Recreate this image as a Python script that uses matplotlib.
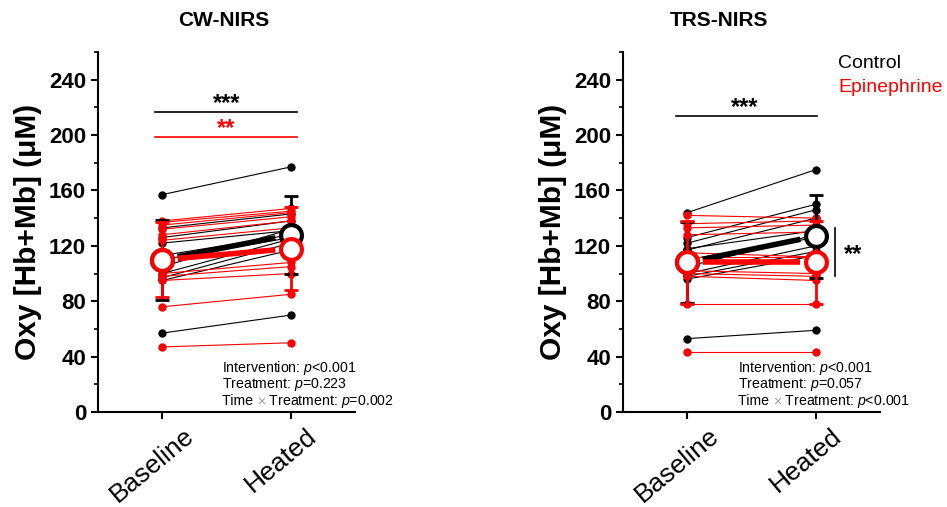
import numpy as np
import matplotlib
matplotlib.use("Agg")
import matplotlib.pyplot as plt
from matplotlib.ticker import MultipleLocator
from matplotlib.transforms import ScaledTranslation

plt.rcParams['font.family'] = ['Liberation Sans', 'DejaVu Sans']
plt.rcParams['mathtext.fontset'] = 'custom'
plt.rcParams['mathtext.rm'] = 'Liberation Sans'
plt.rcParams['mathtext.it'] = 'Liberation Sans:italic'

timepoints = ['Baseline', 'Heated']

# CW-NIRS, individual subjects (baseline, heated)
cw_ctrl_base = [157, 57, 95, 97, 133, 126, 122, 113, 100, 105, 110]
cw_ctrl_heat = [177, 70, 117, 122, 143, 138, 131, 128, 125, 132, 126]
cw_epi_base = [47, 76, 95, 98, 100, 124, 128, 132, 135, 138, 137]
cw_epi_heat = [50, 85, 100, 105, 108, 133, 138, 141, 144, 147, 145]
cw_ctrl_mean = [110, 128]
cw_ctrl_sd = [29, 28]
cw_epi_mean = [110, 118]
cw_epi_sd = [27, 30]

# TRS-NIRS, individual subjects (baseline, heated)
trs_ctrl_base = [144, 53, 126, 122, 117, 98, 96, 100, 105, 110, 118]
trs_ctrl_heat = [175, 59, 150, 146, 140, 116, 113, 120, 128, 126, 131]
trs_epi_base = [43, 78, 142, 136, 133, 128, 112, 100, 98, 102, 115]
trs_epi_heat = [43, 78, 140, 138, 135, 130, 112, 98, 95, 100, 112]
trs_ctrl_mean = [108, 127]
trs_ctrl_sd = [29, 30]
trs_epi_mean = [108, 108]
trs_epi_sd = [30, 30]

# p-values from the two-way ANOVA
cw_p = ["<0.001", "=0.223", "=0.002"]
trs_p = ["<0.001", "=0.057", "<0.001"]

RED = '#ff0000'
BLACK = '#000000'

fig = plt.figure(figsize=(9.47, 5.07), dpi=100)
W, H = 947, 507


def add_axes(left_px, right_px):
    return fig.add_axes([left_px / W, 1 - 412 / H, (right_px - left_px) / W, 360 / H])


def draw_group(ax, base, heat, mean, sd, color, z):
    x = np.arange(2)
    for b, h in zip(base, heat):
        ax.plot(x, [b, h], color=color, lw=0.8, zorder=z)
        ax.plot(x, [b, h], 'o', color=color, ms=5, zorder=z + 0.5)
    ax.errorbar(x, mean, yerr=sd, fmt='none', ecolor=color, elinewidth=2,
                capsize=5, capthick=2, zorder=z + 2)
    xl = np.array([0.12, 0.88])
    ax.plot(xl, np.interp(xl, x, mean), color=color, lw=4, solid_capstyle='butt',
            zorder=z + 3)
    ax.plot(x, mean, 'o', ms=15, mfc='white', mec=color, mew=3, zorder=z + 4)


def style_axes(ax):
    ax.set_xlim(-0.5, 1.5)
    ax.set_ylim(0, 260)
    ax.spines['top'].set_visible(False)
    ax.spines['right'].set_visible(False)
    ax.spines['left'].set_linewidth(1.5)
    ax.spines['bottom'].set_linewidth(1.5)
    ax.yaxis.set_major_locator(MultipleLocator(40))
    ax.yaxis.set_minor_locator(MultipleLocator(20))
    ax.set_yticks(np.arange(0, 241, 40))
    ax.tick_params(axis='both', which='major', direction='out', length=5, width=1.5)
    ax.tick_params(axis='y', which='minor', direction='out', length=3, width=1.2)
    for lab in ax.get_yticklabels():
        lab.set_fontweight('bold')
        lab.set_fontsize(16)
    ax.set_xticks([0, 1])
    ax.set_xticklabels(timepoints, rotation=40, ha='center', fontsize=19)
    off = ScaledTranslation(-10 / 100, 0, fig.dpi_scale_trans)
    for lab in ax.get_xticklabels():
        lab.set_transform(lab.get_transform() + off)
    ax.set_ylabel('Oxy [Hb+Mb] (\u03bcM)', fontsize=21.5, fontweight='bold', labelpad=5)


def stats_text(ax, x0, pvals):
    fs = 10.2
    y = [0.122, 0.076, 0.030]
    ax.text(x0, y[0], "Intervention: $\\it{p}$" + pvals[0], transform=ax.transAxes,
            fontsize=fs, va='center', ha='left')
    ax.text(x0, y[1], "Treatment: $\\it{p}$" + pvals[1], transform=ax.transAxes,
            fontsize=fs, va='center', ha='left')
    t1 = ax.text(x0, y[2], "Time ", transform=ax.transAxes, fontsize=fs,
                 va='center', ha='left')
    t2 = ax.annotate("\u00d7", xy=(1, 0.5), xycoords=t1, fontsize=fs, va='center',
                     ha='left', color='#999999')
    ax.annotate(" Treatment: $\\it{p}$" + pvals[2], xy=(1, 0.5), xycoords=t2,
                fontsize=fs, va='center', ha='left', annotation_clip=False)


# CW-NIRS
ax1 = add_axes(98, 355)
draw_group(ax1, cw_ctrl_base, cw_ctrl_heat, cw_ctrl_mean, cw_ctrl_sd, BLACK, 2)
draw_group(ax1, cw_epi_base, cw_epi_heat, cw_epi_mean, cw_epi_sd, RED, 3)
style_axes(ax1)
ax1.plot([-0.055, 1.05], [217, 217], color=BLACK, lw=1.2)
ax1.text(0.5, 223, '***', ha='center', va='center', fontsize=17, fontweight='bold')
ax1.plot([-0.055, 1.05], [198.5, 198.5], color=RED, lw=1.2)
ax1.text(0.5, 205, '**', ha='center', va='center', fontsize=17, fontweight='bold', color=RED)
stats_text(ax1, 0.482, cw_p)

# TRS-NIRS
ax2 = add_axes(623, 880)
draw_group(ax2, trs_ctrl_base, trs_ctrl_heat, trs_ctrl_mean, trs_ctrl_sd, BLACK, 2)
draw_group(ax2, trs_epi_base, trs_epi_heat, trs_epi_mean, trs_epi_sd, RED, 3)
style_axes(ax2)
ax2.plot([-0.09, 1.01], [213.5, 213.5], color=BLACK, lw=1.2)
ax2.text(0.45, 220, '***', ha='center', va='center', fontsize=17, fontweight='bold')
ax2.plot([1.15, 1.15], [98, 133], color=BLACK, lw=1.2, clip_on=False)
ax2.text(1.29, 114, '**', ha='center', va='center', fontsize=17, fontweight='bold',
         clip_on=False)
stats_text(ax2, 0.447, trs_p)

fig.text(224 / W, 1 - 20 / H, 'CW-NIRS', ha='center', va='center', fontsize=15,
         fontweight='bold')
fig.text(719 / W, 1 - 20 / H, 'TRS-NIRS', ha='center', va='center', fontsize=15,
         fontweight='bold')
fig.text(838 / W, 1 - 63 / H, 'Control', ha='left', va='center', fontsize=14,
         color=BLACK)
fig.text(838 / W, 1 - 88 / H, 'Epinephrine', ha='left', va='center', fontsize=14,
         color=RED)

fig.savefig('out.png', dpi=100)
